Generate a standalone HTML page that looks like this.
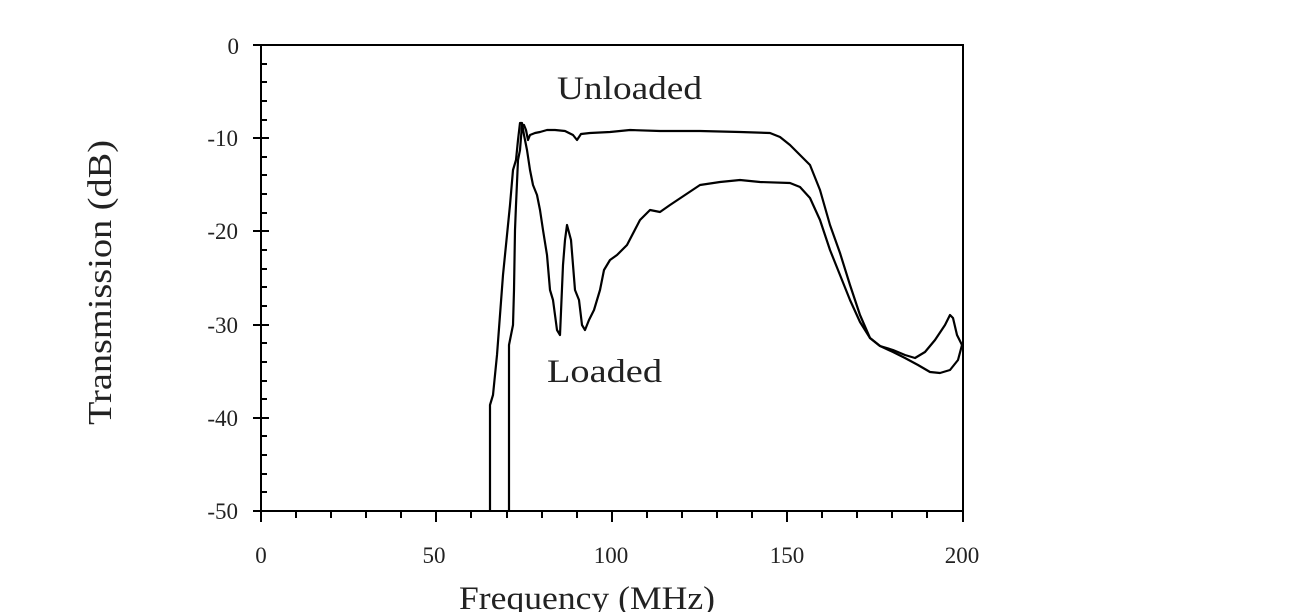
<!DOCTYPE html>
<html><head><style>
html,body{margin:0;padding:0;background:#fff;}
svg{display:block;}
text{font-family:"Liberation Serif",serif;fill:#222;}
</style></head><body>
<svg width="1294" height="612" viewBox="0 0 1294 612" xmlns="http://www.w3.org/2000/svg">
<rect x="0" y="0" width="1294" height="612" fill="#fff"/>
<g stroke="#000" stroke-width="2" fill="none">
<rect x="261" y="45" width="702" height="466"/>
<path d="M253 45H269M253 138H269M253 231H269M253 325H269M253 418H269M253 511H269"/>
<path d="M261 64H267M261 82H267M261 101H267M261 120H267M261 157H267M261 175H267M261 194H267M261 213H267M261 250H267M261 269H267M261 287H267M261 306H267M261 343H267M261 362H267M261 381H267M261 399H267M261 436H267M261 455H267M261 474H267M261 492H267"/>
<path d="M261 511V522M296 511V518M331 511V518M366 511V518M401 511V518M436 511V522M471 511V518M507 511V518M542 511V518M577 511V518M612 511V522M647 511V518M682 511V518M717 511V518M752 511V518M787 511V522M822 511V518M857 511V518M892 511V518M927 511V518M963 511V522"/>
</g>
<g stroke="#000" stroke-width="2.2" fill="none" stroke-linejoin="round">
<polyline points="490,511 490,405 493,395 497,355 500,315 503,275 507,235 510,205 513,170 516,160 518,140 520,123 522,123 524,135 527,150 530,170 533,185 537,195 540,210 543,230 547,255 550,290 553,300 557,330 560,335 563,265 565,240 567,225 571,240 575,290 579,300 582,325 585,330 589,320 594,310 600,290 604,270 610,260 617,255 627,245 640,220 650,210 660,212 670,205 685,195 700,185 720,182 740,180 760,182 790,183 800,187 810,198 820,220 830,250 840,275 850,300 860,322 870,338 880,346 893,352 905,358 918,365 930,372 940,373 950,370 958,360 962,345"/>
<polyline points="509,511 509,345 513,325 514,290 515,230 516,205 518,160 520,150 522,125 524,125 526,130 528,140 530,135 535,133 540,132 547,130 555,130 565,131 573,135 577,140 581,134 590,133 610,132 630,130 660,131 700,131 740,132 770,133 780,137 790,145 800,155 810,165 820,190 830,225 840,253 850,285 860,315 870,338 880,346 893,350 905,355 915,358 925,352 935,340 945,325 950,315 953,318 957,335 962,345"/>
</g>
<g font-size="23" text-anchor="end">
<text x="239" y="54">0</text>
<text x="238" y="146">-10</text>
<text x="238" y="239">-20</text>
<text x="238" y="333">-30</text>
<text x="238" y="426">-40</text>
<text x="238" y="519">-50</text>
</g>
<g font-size="23" text-anchor="middle">
<text x="261" y="563">0</text>
<text x="434" y="563">50</text>
<text x="611" y="563">100</text>
<text x="787" y="563">150</text>
<text x="962" y="563">200</text>
</g>
<text x="459" y="609" font-size="33" textLength="256" lengthAdjust="spacingAndGlyphs">Frequency (MHz)</text>
<text transform="translate(111,425) rotate(-90)" font-size="34" textLength="285" lengthAdjust="spacingAndGlyphs">Transmission (dB)</text>
<text x="557" y="99" font-size="33" textLength="145" lengthAdjust="spacingAndGlyphs">Unloaded</text>
<text x="547" y="382" font-size="33" textLength="115" lengthAdjust="spacingAndGlyphs">Loaded</text>
</svg>
</body></html>
